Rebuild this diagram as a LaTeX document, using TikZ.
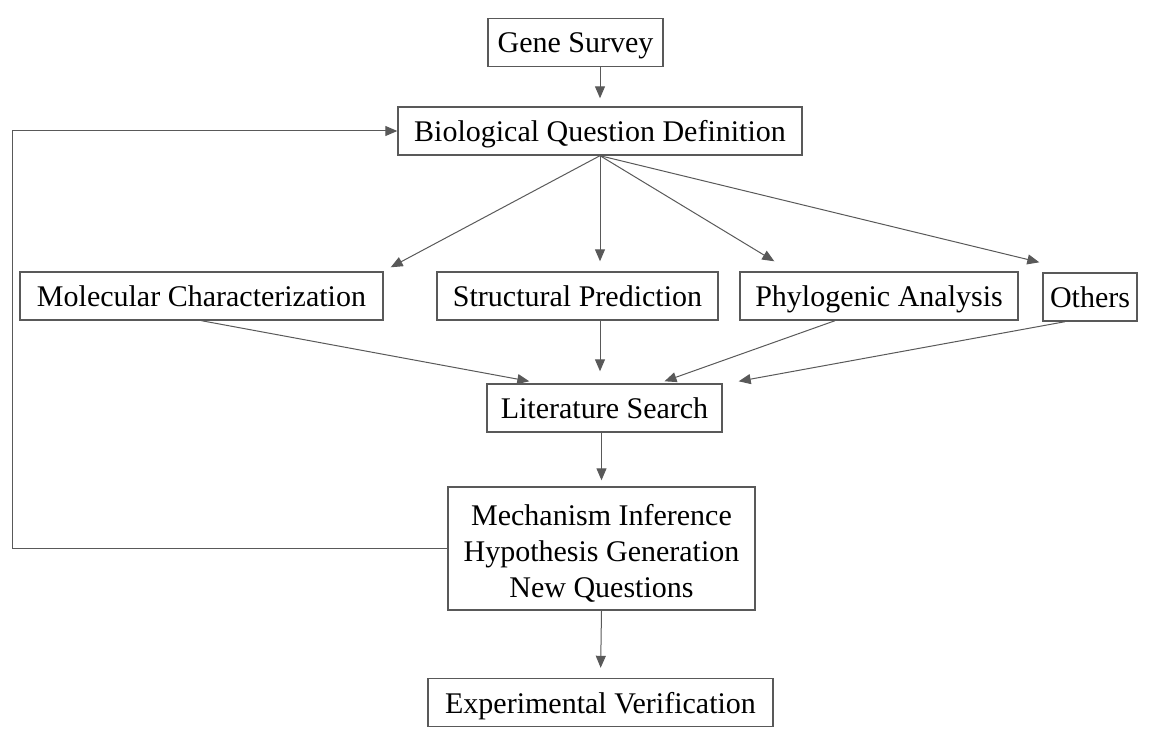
\documentclass[tikz,border=0pt]{standalone}
\usepackage{fontspec}
\setmainfont{Liberation Serif}
\usetikzlibrary{arrows.meta,calc}

\begin{document}
\begin{tikzpicture}[x=0.5pt,y=-0.5pt,
    stepbox/.style={draw=black!65,line width=0.7pt,inner xsep=3pt,minimum height=24pt,
      text height=13pt,text depth=2.5pt,font=\fontsize{15}{18}\selectfont},
    link/.style={draw=black!65,line width=0.5pt,-{Triangle[length=6pt,width=5pt]}}]
    \useasboundingbox(0,0)rectangle(1150,732);
    \node[stepbox,minimum width=87.5pt](gene)at(575.5,42.5){Gene Survey};
    \node[stepbox,minimum width=202pt](bio)at(600,131){Biological Question Definition};
    \node[stepbox,minimum width=181.5pt](mol)at(201.5,296){Molecular Characterization};
    \node[stepbox,minimum width=140.5pt](str)at(577.5,296){Structural Prediction};
    \node[stepbox,minimum width=139pt](phy)at(879,296){Phylogenic Analysis};
    \node[stepbox,minimum width=47pt](oth)at(1090,297){Others};
    \node[stepbox,minimum width=117.5pt](lit)at(604.5,408){Literature Search};
    \node[stepbox,align=center,text height=,text depth=,minimum width=153.5pt,minimum height=61.5pt](mech)at(601.5,548.5)
      {\rule{0pt}{15pt}Mechanism Inference\\Hypothesis Generation\\New Questions};
    \node[stepbox,minimum width=172.5pt](exp)at(600.5,702.5){Experimental Verification};
    \coordinate(loop)at(12,548.5);
    \draw[link,shorten >=4pt](bio.north|-gene.south)--(bio.north);
    \draw[link](bio.south)--($(mol.north east)+(7,-4)$);
    \draw[link,shorten >=5pt](bio.south)--(bio.south|-str.north);
    \draw[link](bio.south)--($(phy.north west)+(35,-10)$);
    \draw[link](bio.south)--($(oth.north west)+(-3,-10)$);
    \draw[link](mol.south)--($(lit.north west)+(43,-2)$);
    \draw[link,shorten >=6pt](str.south-|bio.south)--(lit.north-|bio.south);
    \draw[link]($(phy.south)+(-44,0)$)--($(lit.north)+(60,-2)$);
    \draw[link]($(oth.south)+(-25,0)$)--($(lit.north east)+(16,-2)$);
    \draw[link,shorten >=3pt](mech.north|-lit.south)--(mech.north);
    \draw[link,shorten >=5pt](mech.south)--(exp.north);
    \draw[link](mech.west)--(loop)|-(bio.west);
\end{tikzpicture}
\end{document}
